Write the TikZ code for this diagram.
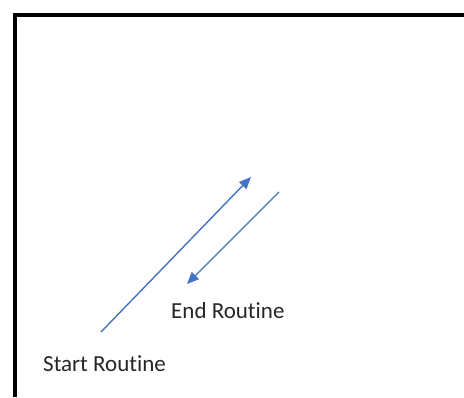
\documentclass[tikz,border=0pt]{standalone}
\usepackage{fontspec}
\setmainfont{Carlito}[Ligatures=NoCommon]
\usetikzlibrary{arrows.meta,positioning}
\definecolor{routineblue}{RGB}{68,114,196}
\begin{document}
\begin{tikzpicture}[x=1pt,y=1pt,
    flow/.style={routineblue, line width=1.4pt, -{Triangle[length=12pt,width=10pt]}},
    routinetext/.style={inner sep=0pt, anchor=base west, font=\fontsize{23}{27}\selectfont, text=black!85}]
    \useasboundingbox (0,0) rectangle (464,397);
    \draw[line width=4.5pt] (15,0) -- (15,382) -- (464,382);

    \coordinate (startfoot) at (101,65);
    \coordinate (starthead) at (251,220);
    \coordinate (endfoot) at (279,205);
    \coordinate (endhead) at (187,113);

    \draw[flow] (startfoot) -- (starthead);
    \draw[flow] (endfoot) -- (endhead);

    \node[routinetext] (endlabel) at (171,78) {End Routine};
    \node[routinetext] (startlabel) at (43,25) {Start Routine};
\end{tikzpicture}
\end{document}
